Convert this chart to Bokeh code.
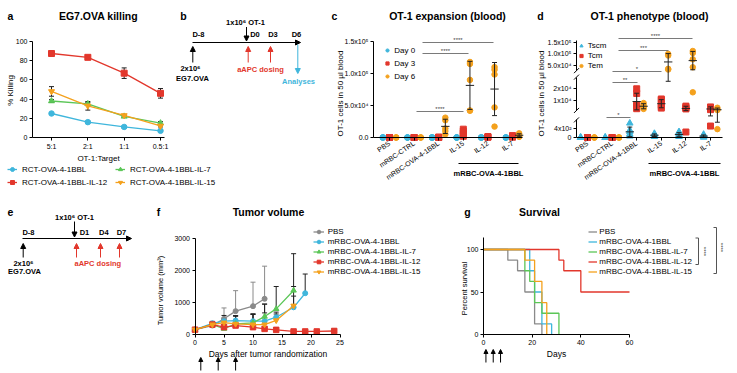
import math
import numpy as np
from bokeh.plotting import figure
from bokeh.models import (Range1d, FixedTicker, Label, Arrow, NormalHead, TeeHead, LinearAxis,
                          Legend, LegendItem, ColumnDataSource, Whisker)
from bokeh.layouts import row, column
from bokeh.embed import file_html
from bokeh.resources import INLINE

FONT = "Liberation Sans"
CYAN = "#3fb6dc"
RED = "#e2372c"
GREEN = "#5bc657"
ORANGE = "#f4a11d"
GRAY = "#8a8a8a"
SIG = "#7a7a7a"
BAR = "#222222"

# ------------------------------------------------------------------ data
# a: EG7.OVA killing (% killing at each OT-1:target ratio)
ratio_labels = ["5:1", "2:1", "1:1", "0.5:1"]
kill_names = ["RCT-OVA-4-1BBL", "RCT-OVA-4-1BBL-IL-12", "RCT-OVA-4-1BBL-IL-7", "RCT-OVA-4-1BBL-IL-15"]
kill_1bbl = [25, 16, 11, 7]
kill_1bbl_err = [1.0, 1.0, 1.0, 1.0]
kill_il12 = [87.5, 83.5, 67, 46]
kill_il12_err = [1.5, 1.5, 5.5, 5.0]
kill_il7 = [38, 35, 22, 15]
kill_il7_err = [1.5, 1.5, 1.0, 1.5]
kill_il15 = [48, 33, 23, 12]
kill_il15_err = [5.0, 4.5, 1.0, 1.0]

# c / d: groups
group_labels = ["PBS", "mRBC-CTRL", "mRBC-OVA-4-1BBL", "IL-15", "IL-12", "IL-7"]
group_bracket_label = "mRBC-OVA-4-1BBL"

# c: OT-1 cells in 50 ul blood
day_labels = ["Day 0", "Day 3", "Day 6"]
exp_day0 = [[0, 0, 0, 0], [0, 0, 0, 0], [0, 0, 0, 0, 0], [0, 0, 0, 0, 0], [0, 0, 0, 0, 0], [0, 0, 0, 0]]
exp_day3 = [[0, 0, 0], [0, 0, 0], [600, 300, 0], [13000, 10000, 7000, 4000, 2000],
            [1500, 800, 300], [3000, 1500, 500]]
exp_day6 = [[0, 0, 0], [0, 0, 0], [31000, 27000, 14000, 10000, 5000],
            [118000, 115000, 90000, 42000, 42000], [110000, 106000, 98500, 47000, 17000],
            [6500, 4000, 2500, 1000]]

# d: OT-1 phenotype
pheno_labels = ["Tscm", "Tcm", "Tem"]
tscm = [[0, 0, 0], [0, 0, 0], [650, 330, 250, 150, 100, 60], [180, 140, 100, 60, 40],
        [260, 200, 150, 110, 70, 40], [140, 90, 50, 30, 10]]
tcm = [[0, 0, 0], [0, 0, 0], [20000, 16000, 6500, 5200, 4000, 3000], [11300, 10500, 6200, 4800, 3500],
       [5200, 4200, 3600, 2800, 250], [4500, 3800, 2200, 520]]
tem = [[0, 0, 0], [0, 0, 0], [7800, 5800, 4000, 2800], [99000, 92000, 33000, 30000],
       [112000, 103000, 75000, 40000, 17000], [3800, 2500, 1800, 380]]

# f: tumor volume (mm3)
tv_days = [0, 3, 5, 7, 10, 12, 14, 17, 19, 21, 24]
tv_names = ["PBS", "mRBC-OVA-4-1BBL", "mRBC-OVA-4-1BBL-IL-7", "mRBC-OVA-4-1BBL-IL-12", "mRBC-OVA-4-1BBL-IL-15"]
tv_pbs = [150, 280, 490, 730, 885, 1115]
tv_pbs_sd = [20, 120, 340, 640, 750, 1020]
tv_1bbl = [150, 350, 415, 435, 415, 415, 540, 850, 1290]
tv_1bbl_sd = [20, 60, 180, 150, 230, 260, 160, 350, 600]
tv_il7 = [150, 310, 180, 330, 365, 560, 800, 1375]
tv_il7_sd = [20, 70, 120, 240, 260, 390, 700, 1150]
tv_il12 = [150, 310, 230, 280, 230, 175, 145, 95, 95, 95, 110]
tv_il12_sd = [20, 60, 90, 140, 110, 60, 70, 40, 40, 40, 60]
tv_il15 = [150, 310, 370, 330, 310, 310, 440, 900]
tv_il15_sd = [20, 70, 110, 260, 330, 640, 200, 600]
dose_days = [1, 4, 7]

# g: survival (%)
surv_pbs_t = [0, 10, 14, 17, 21, 24]
surv_pbs = [100, 87.5, 75, 50, 12.5, 0]
surv_1bbl_t = [0, 19, 21, 24, 28]
surv_1bbl = [100, 75, 50, 12.5, 0]
surv_il7_t = [0, 17, 19, 21, 24, 31]
surv_il7 = [100, 75, 62.5, 37.5, 25, 0]
surv_il12_t = [0, 31, 33, 40, 60]
surv_il12 = [100, 87.5, 75, 50, 50]
surv_il15_t = [0, 17, 21, 24, 26]
surv_il15 = [100, 87.5, 62.5, 37.5, 0]


# ------------------------------------------------------------------ helpers
def style_axis(ax):
    ax.axis_line_color = "black"
    ax.axis_line_width = 1
    ax.major_tick_line_color = "black"
    ax.major_tick_in = 0
    ax.major_tick_out = 3
    ax.minor_tick_line_color = None
    ax.major_label_text_font = FONT
    ax.major_label_text_font_size = "7px"
    ax.major_label_text_color = "black"
    ax.major_label_standoff = 2
    ax.axis_label_text_font = FONT
    ax.axis_label_text_font_size = "8.5px"
    ax.axis_label_text_font_style = "normal"
    ax.axis_label_text_color = "black"
    ax.axis_label_standoff = 1


class Panel:
    """A figure whose frame covers its whole canvas; page pixel <-> data helpers."""

    def __init__(self, x0, y0, w, h, xmap, ymap):
        (u1, X1), (u2, X2) = xmap
        (v1, Y1), (v2, Y2) = ymap
        self.x0, self.y0, self.w, self.h = x0, y0, w, h
        self.kx, self.ux, self.Xx = (X2 - X1) / (u2 - u1), u1, X1
        self.ky, self.vy, self.Yy = (Y2 - Y1) / (v2 - v1), v1, Y1
        self.p = figure(width=w, height=h,
                        x_range=Range1d(self.dx(x0), self.dx(x0 + w)),
                        y_range=Range1d(self.dy(y0 + h), self.dy(y0)),
                        output_backend="svg", toolbar_location=None, title=None,
                        x_axis_location=None, y_axis_location=None, min_border=0)
        self.p.outline_line_color = None
        for gr in self.p.grid:
            gr.visible = False

    def dx(self, X):
        return self.ux + (X - self.Xx) / self.kx

    def dy(self, Y):
        return self.vy + (Y - self.Yy) / self.ky

    def axis(self, side, loc, bounds, ticks, overrides=None, label=None, orient=None):
        ax = LinearAxis(fixed_location=loc, bounds=bounds, ticker=FixedTicker(ticks=ticks))
        style_axis(ax)
        if overrides:
            ax.major_label_overrides = overrides
        if label:
            ax.axis_label = label
        if orient is not None:
            ax.major_label_orientation = orient
        self.p.add_layout(ax, side)
        return ax

    def text(self, X, Y, s, size=8, color="black", bold=False, align="center", angle=0.0):
        self.p.add_layout(Label(x=X - self.x0, y=self.y0 + self.h - Y, x_units="screen", y_units="screen",
                                text=s, text_font=FONT, text_font_size=f"{size}px", text_color=color,
                                text_font_style="bold" if bold else "normal", text_align=align,
                                text_baseline="middle", angle=angle))

    def line(self, X1, Y1, X2, Y2, color="black", w=1.0, head=False, hs=5):
        end = NormalHead(size=hs, fill_color=color, line_color=color, line_width=1) if head else None
        self.p.add_layout(Arrow(x_start=X1 - self.x0, y_start=self.y0 + self.h - Y1,
                                x_end=X2 - self.x0, y_end=self.y0 + self.h - Y2,
                                start_units="screen", end_units="screen", start=None, end=end,
                                line_color=color, line_width=w))

    def legend(self, items, left, bottom, **kw):
        opts = dict(label_text_font=FONT, label_text_font_size="8px", label_text_color="black",
                    padding=0, margin=0, border_line_color=None, background_fill_alpha=0,
                    spacing=1, glyph_height=9, label_height=9)
        opts.update(kw)
        self.p.add_layout(Legend(items=items, location=(left - self.x0, self.y0 + self.h - bottom), **opts))


# ------------------------------------------------------------------ a + b
A = Panel(0, 0, 330, 190, ((0, 51), (3, 160)), ((0, 137), (100, 41)))
pa = A.p
xi = list(range(len(ratio_labels)))
A.axis("below", 0, (A.dx(32), A.dx(164)), xi, {i: s for i, s in enumerate(ratio_labels)},
       label="OT-1:Target").axis_label_text_font_size = "8px"
A.axis("left", A.dx(32), (0, 100), [0, 20, 40, 60, 80, 100])
kill_sets = [(kill_1bbl, kill_1bbl_err, CYAN, "circle", 5.5),
             (kill_il12, kill_il12_err, RED, "square", 6),
             (kill_il7, kill_il7_err, GREEN, "triangle", 6),
             (kill_il15, kill_il15_err, ORANGE, "inverted_triangle", 6)]
items_a = []
for name, (vals, err, col, mk, sz) in zip(kill_names, kill_sets):
    src = ColumnDataSource(dict(x=xi, y=vals, lo=[v - e for v, e in zip(vals, err)],
                                hi=[v + e for v, e in zip(vals, err)]))
    lr = pa.line("x", "y", source=src, line_color=col, line_width=1.3)
    sr = pa.scatter("x", "y", source=src, marker=mk, size=sz, fill_color=col, line_color=col)
    pa.add_layout(Whisker(source=src, base="x", lower="lo", upper="hi", line_color=BAR, line_width=1,
                          upper_head=TeeHead(size=5, line_color=BAR, line_width=1),
                          lower_head=TeeHead(size=5, line_color=BAR, line_width=1)))
    items_a.append(LegendItem(label=name, renderers=[lr, sr]))
A.legend(items_a, 7, 187, ncols=2, glyph_width=10, glyph_height=10, label_height=10, spacing=3,
         label_standoff=5, label_width=90)
A.text(10, 15, "a", 10.5, bold=True)
A.text(98, 15, "EG7.OVA killing", 10.5, bold=True)
A.text(10, 90, "% Killing", 8, angle=math.pi / 2)

# b: schematic
A.text(183, 15, "b", 10.5, bold=True)
A.line(192, 42, 300, 42, head=True)
for s, x in [("D-8", 198), ("D0", 254.5), ("D3", 272.5), ("D6", 296)]:
    A.text(x, 34, s, 7.5, bold=True)
A.text(245, 21.5, "1x10⁶ OT-1", 7.5, bold=True)
A.line(246, 26.5, 246, 40.5, head=True)
A.line(192.3, 62, 192.3, 46, head=True)
A.text(190, 68.3, "2x10⁶", 7.5, bold=True)
A.text(192, 77.7, "EG7.OVA", 7.5, bold=True)
for x in (247.7, 270):
    A.line(x, 62, x, 46, color=RED, head=True)
A.text(260, 69, "aAPC dosing", 7.5, color=RED, bold=True)
A.line(297.3, 44, 297.3, 73, color=CYAN, head=True)
A.text(298, 80.7, "Analyses", 7.5, color=CYAN, bold=True)

# ------------------------------------------------------------------ c
C = Panel(330, 0, 205, 190, ((0, 389), (5, 512)), ((0, 137), (150000, 41)))
pc = C.p
gidx = list(range(len(group_labels)))
C.axis("below", 0, (C.dx(373), C.dx(522)), gidx, {i: s for i, s in enumerate(group_labels)}, orient=0.6)
C.axis("left", C.dx(373), (0, 150000), [0, 50000, 100000, 150000],
       {0: "0.0", 50000: "5.0x10⁴", 100000: "1.0x10⁵", 150000: "1.5x10⁵"})
c_offsets = [-0.27, 0.0, 0.27]
c_style = [(CYAN, "circle", 5.5), (RED, "square", 6), (ORANGE, "circle", 5.5)]
items_c = []
for k, day in enumerate([exp_day0, exp_day3, exp_day6]):
    xs, ys = [], []
    for gi, vals in enumerate(day):
        xs += [gi + c_offsets[k]] * len(vals)
        ys += vals
    col, mk, sz = c_style[k]
    r = pc.scatter(xs, ys, marker=mk, size=sz, fill_color=col, line_color=col)
    items_c.append(LegendItem(label=day_labels[k], renderers=[r]))
ex, e0, e1, cx0, cx1, cy = [], [], [], [], [], []
for gi, vals in enumerate(exp_day6):
    if max(vals) == 0:
        continue
    m, s = float(np.mean(vals)), float(np.std(vals, ddof=1))
    x = gi + c_offsets[2]
    ex.append(x); e0.append(max(m - s, 0)); e1.append(m + s)
    for yv, hw in ((m - s, 0.1), (m + s, 0.1), (m, 0.17)):
        cx0.append(x - hw); cx1.append(x + hw); cy.append(max(yv, 0))
pc.segment(ex, e0, ex, e1, line_color=BAR, line_width=1)
pc.segment(cx0, cy, cx1, cy, line_color=BAR, line_width=1)
C.legend(items_c, 383.3, 81, glyph_width=8, glyph_height=10, label_height=10, spacing=3, label_standoff=3)
C.text(334, 15, "c", 10.5, bold=True)
C.text(447, 15, "OT-1 expansion (blood)", 10.5, bold=True)
C.text(339.5, 93, "OT-1 cells in 50 µl blood", 8, angle=math.pi / 2)
for x1, x2, y, s in [(422, 493, 42, "****"), (422, 468, 53, "****"), (416, 463, 111, "****")]:
    C.line(x1, y, x2, y, color=SIG, w=1.2)
    C.text((x1 + x2) / 2, y - 2.5, s, 6, color="#444")
C.line(458, 163, 518, 163, w=1.2)
C.text(488, 173.3, group_bracket_label, 7.5, bold=True)

# ------------------------------------------------------------------ d (broken axis)
SEGS = [  # value lo, value hi, anchor value, anchor display pos, display units per value, ticks, labels
    (0, 800, 0, 0.0, 0.022, [0, 400], ["0", "4x10²"]),
    (1500, 30000, 1e4, 37.0, 0.00117, [1e4, 2e4], ["1x10⁴", "2x10⁴"]),
    (25000, 158000, 5e4, 72.5, 0.000226, [5e4, 1e5, 1.5e5], ["5.0x10⁴", "1.0x10⁵", "1.5x10⁵"]),
]


def seg_of(v):
    if v < 1150:
        return SEGS[0]
    if v < 27500:
        return SEGS[1]
    return SEGS[2]


def brk(v, s=None):
    s = s or seg_of(v)
    return s[3] + (v - s[2]) * s[4]


D = Panel(535, 0, 202, 190, ((0, 587), (5, 710)), ((0, 137), (97, 40)))
pd_ = D.p
D.axis("below", 0, (D.dx(576), D.dx(722)), gidx, {i: s for i, s in enumerate(group_labels)}, orient=0.6)
for s in SEGS:
    tk = [round(brk(v, s), 4) for v in s[5]]
    D.axis("left", D.dx(576), (brk(s[0], s), brk(s[1], s)), tk, {t: lab for t, lab in zip(tk, s[6])})
for s, ends in zip(SEGS, [(1,), (0, 1), (0,)]):
    for e in ends:
        yb = 137 - brk(s[e], s)
        D.line(573.5, yb + 2.5, 578.5, yb - 2.5, w=1)
d_offsets = [-0.28, 0.0, 0.28]
d_style = [(CYAN, "triangle", 6.5), (RED, "square", 6), (ORANGE, "circle", 5.5)]
items_d = []
ex, e0, e1, cx0, cx1, cy = [], [], [], [], [], []
for k, sub in enumerate([tscm, tcm, tem]):
    xs, ys = [], []
    for gi, vals in enumerate(sub):
        xs += [gi + d_offsets[k]] * len(vals)
        ys += [brk(v) for v in vals]
        if max(vals) > 0:
            m, sd = float(np.mean(vals)), float(np.std(vals, ddof=1))
            x = gi + d_offsets[k]
            lo, hi = max(m - sd, 0), m + sd
            ex.append(x); e0.append(brk(lo)); e1.append(brk(hi))
            for yv, hw in ((lo, 0.1), (hi, 0.1), (m, 0.17)):
                cx0.append(x - hw); cx1.append(x + hw); cy.append(brk(yv))
    col, mk, sz = d_style[k]
    r = pd_.scatter(xs, ys, marker=mk, size=sz, fill_color=col, line_color=col)
    items_d.append(LegendItem(label=pheno_labels[k], renderers=[r]))
pd_.segment(ex, e0, ex, e1, line_color=BAR, line_width=1)
pd_.segment(cx0, cy, cx1, cy, line_color=BAR, line_width=1)
D.legend(items_d, 576.7, 70, glyph_width=8, label_standoff=3)
D.text(540, 15, "d", 10.5, bold=True)
D.text(649, 15, "OT-1 phenotype (blood)", 10.5, bold=True)
D.text(541, 93, "OT-1 cells in 50 µl blood", 8, angle=math.pi / 2)
for x1, x2, y, s in [(618, 692, 38, "****"), (618, 668, 50, "***"), (612, 661, 71, "*"),
                     (612, 637, 82, "**"), (606, 630, 117, "*")]:
    D.line(x1, y, x2, y, color=SIG, w=1.2)
    D.text((x1 + x2) / 2, y - 2.5, s, 6, color="#444")
D.line(648, 163, 720, 163, w=1.2)
D.text(684, 173.3, group_bracket_label, 7.5, bold=True)

# ------------------------------------------------------------------ e + f
F = Panel(0, 190, 460, 183, ((0, 194.5), (25, 339.5)), ((0, 334), (3000, 238)))
pf = F.p
F.axis("below", 0, (0, 25), [0, 5, 10, 15, 20, 25], label="Days after tumor randomization")
F.axis("left", 0, (0, 3000), [0, 1000, 2000, 3000])
tv_sets = [(tv_pbs, tv_pbs_sd, GRAY, "circle", 5, GRAY),
           (tv_1bbl, tv_1bbl_sd, CYAN, "circle", 5, BAR),
           (tv_il7, tv_il7_sd, GREEN, "triangle", 5.5, BAR),
           (tv_il12, tv_il12_sd, RED, "square", 5.5, BAR),
           (tv_il15, tv_il15_sd, ORANGE, "inverted_triangle", 5.5, BAR)]
items_f = []
for name, (vals, sd, col, mk, sz, ecol) in zip(tv_names, tv_sets):
    d = tv_days[:len(vals)]
    src = ColumnDataSource(dict(x=d, y=vals, hi=[v + s for v, s in zip(vals, sd)]))
    pf.add_layout(Whisker(source=src, base="x", lower="y", upper="hi", line_color=ecol, line_width=1,
                          upper_head=TeeHead(size=5, line_color=ecol, line_width=1), lower_head=None))
    lr = pf.line("x", "y", source=src, line_color=col, line_width=1.3)
    sr = pf.scatter("x", "y", source=src, marker=mk, size=sz, fill_color=col, line_color=col)
    items_f.append(LegendItem(label=name, renderers=[lr, sr]))
F.legend(items_f, 312.7, 276, glyph_width=11, label_standoff=4)
F.text(158, 211, "f", 10.5, bold=True)
F.text(268, 211, "Tumor volume", 10.5, bold=True)
F.text(160, 290, "Tumor volume (mm³)", 7.5, angle=math.pi / 2)
for dd in dose_days:
    X = 194.5 + dd * F.kx
    F.line(X, 370, X, 357, head=True, hs=4)

# e: schematic
F.text(10, 211, "e", 10.5, bold=True)
F.line(22, 238, 131, 238, head=True)
for s, x in [("D-8", 28), ("D1", 84), ("D4", 103.3), ("D7", 121)]:
    F.text(x, 231.7, s, 7.5, bold=True)
F.text(74, 217.3, "1x10⁶ OT-1", 7.5, bold=True)
F.line(74, 221, 74, 236.5, head=True)
F.line(22.7, 257, 22.7, 243, head=True)
F.text(23, 262.7, "2x10⁶", 7.5, bold=True)
F.text(24, 270.7, "EG7.OVA", 7.5, bold=True)
for x in (76, 100, 119):
    F.line(x, 257, x, 243, color=RED, head=True)
F.text(97.3, 262.7, "aAPC dosing", 7.5, color=RED, bold=True)

# ------------------------------------------------------------------ g
G = Panel(460, 190, 277, 183, ((0, 483), (60, 629)), ((0, 334), (100, 249)))
pg = G.p
G.axis("below", 0, (0, 60), [0, 20, 40, 60], label="Days")
G.axis("left", 0, (0, G.dy(237)), [0, 50, 100])
surv_sets = [(surv_pbs_t, surv_pbs, GRAY), (surv_1bbl_t, surv_1bbl, CYAN), (surv_il7_t, surv_il7, GREEN),
             (surv_il12_t, surv_il12, RED), (surv_il15_t, surv_il15, ORANGE)]
items_g = []
for name, (t, s, col) in zip(tv_names, surv_sets):
    r = pg.step(t, s, mode="after", line_color=col, line_width=1.3)
    m = pg.scatter(x=[], y=[], marker="dash", angle=math.pi / 2, size=5, line_color=col, line_width=1.3)
    items_g.append(LegendItem(label=name, renderers=[r, m]))
G.legend(items_g, 588.3, 276, glyph_width=9, label_standoff=2)
G.text(467, 211, "g", 10.5, bold=True)
G.text(539, 211, "Survival", 10.5, bold=True)
G.text(464, 288, "Percent survival", 7.5, angle=math.pi / 2)
for xb, y1, y2, sx, sy in [(698, 237.5, 264, 703, 251), (716, 227, 273, 720, 247)]:
    G.line(xb - 3, y1, xb, y1, color="#555")
    G.line(xb, y1, xb, y2, color="#555")
    G.line(xb - 3, y2, xb, y2, color="#555")
    G.text(sx, sy, "****", 6, color="#444", angle=-math.pi / 2)
for dd in dose_days:
    X = 483 + dd * G.kx
    G.line(X, 362, X, 349, head=True, hs=4)

layout = column(row(A.p, C.p, D.p), row(F.p, G.p))
open("out.html", "w").write(file_html(layout, INLINE, title="chart"))
